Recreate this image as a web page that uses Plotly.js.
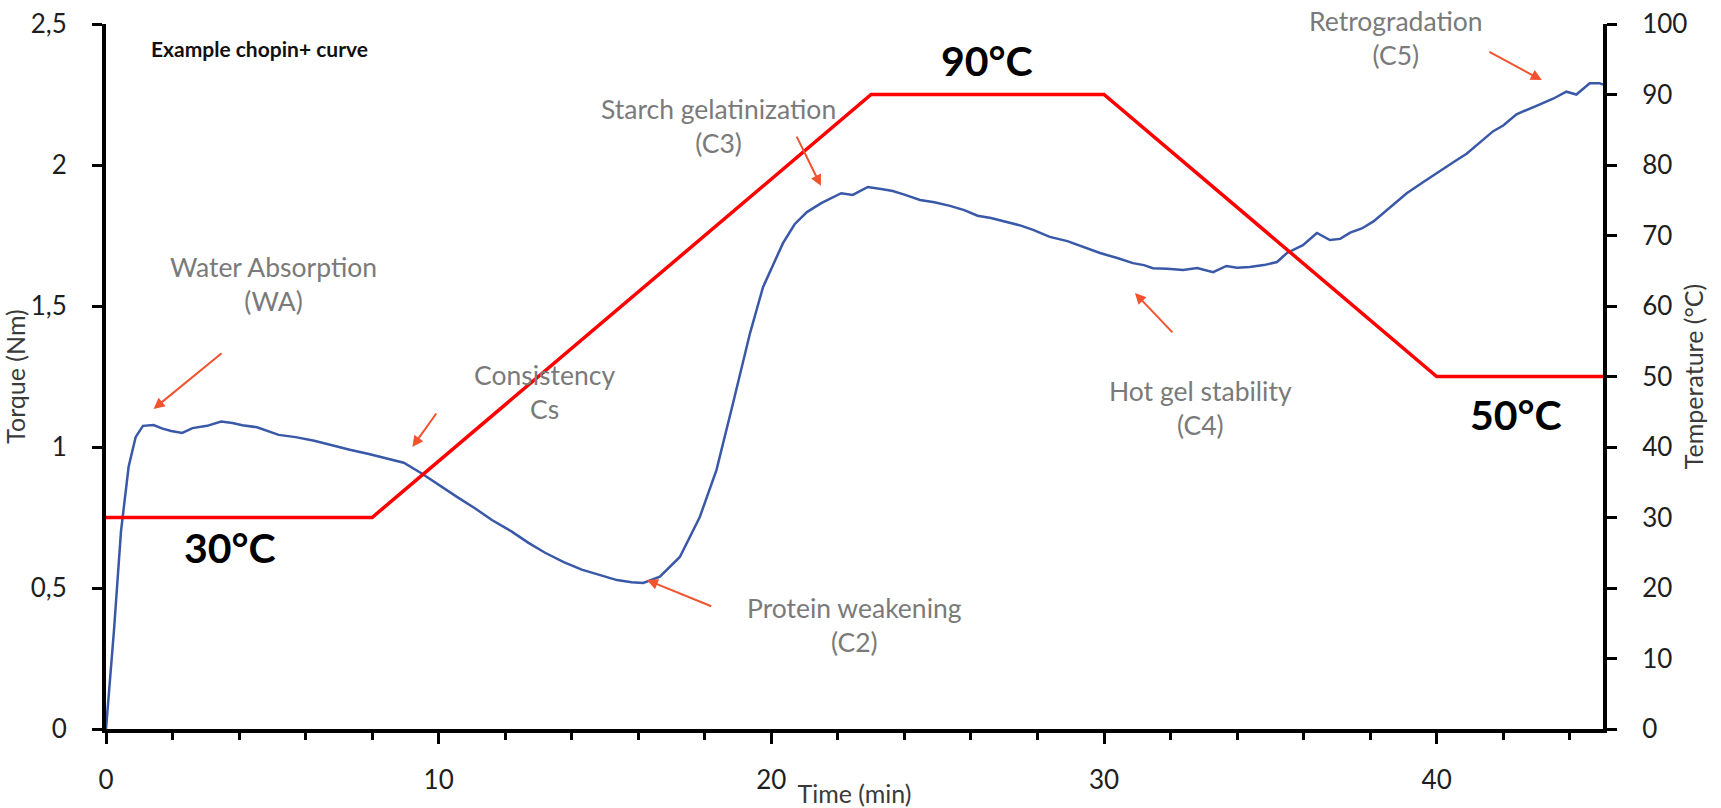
<!DOCTYPE html>
<html>
<head>
<meta charset="utf-8">
<script src="https://cdn.plot.ly/plotly-3.0.1.min.js"></script>
<style>
  html, body { margin: 0; padding: 0; background: #ffffff; }
  #chart { width: 1721px; height: 808px; }
</style>
</head>
<body>
<div id="chart"></div>
<script>
// ---- Data ----
const time = [0, 0.24, 0.45, 0.68, 0.89, 1.11, 1.43, 1.7, 1.96, 2.29, 2.6, 3.04, 3.46, 3.8, 4.1, 4.54, 5.19, 5.7, 6.26, 6.8, 7.33, 7.9, 8.4, 8.95, 9.48, 10.0, 10.55, 11.1, 11.6, 12.2, 12.7, 13.2, 13.76, 14.3, 14.85, 15.36, 15.8, 16.15, 16.65, 17.25, 17.85, 18.35, 18.85, 19.36, 19.75, 20.35, 20.7, 21.07, 21.5, 21.85, 22.1, 22.45, 22.9, 23.3, 23.65, 24.0, 24.47, 24.9, 25.37, 25.8, 26.2, 26.6, 27.07, 27.5, 27.87, 28.37, 28.9, 29.37, 29.88, 30.4, 30.87, 31.2, 31.47, 31.9, 32.38, 32.8, 33.28, 33.68, 34.0, 34.38, 34.8, 35.2, 35.5, 35.98, 36.4, 36.79, 37.1, 37.4, 37.75, 38.1, 38.6, 39.1, 39.6, 40.1, 40.5, 40.9, 41.3, 41.7, 42.0, 42.4, 43.0, 43.5, 43.9, 44.2, 44.6, 44.9, 45.0];
const torque = [0, 0.35, 0.70, 0.93, 1.035, 1.075, 1.078, 1.065, 1.057, 1.05, 1.067, 1.075, 1.09, 1.085, 1.077, 1.07, 1.043, 1.035, 1.022, 1.005, 0.99, 0.975, 0.96, 0.944, 0.907, 0.865, 0.823, 0.782, 0.741, 0.70, 0.66, 0.625, 0.592, 0.565, 0.545, 0.528, 0.52, 0.518, 0.54, 0.61, 0.752, 0.918, 1.156, 1.404, 1.567, 1.723, 1.79, 1.833, 1.865, 1.887, 1.90, 1.894, 1.922, 1.915, 1.908, 1.895, 1.876, 1.868, 1.855, 1.84, 1.82, 1.812, 1.798, 1.785, 1.77, 1.745, 1.73, 1.71, 1.688, 1.67, 1.652, 1.645, 1.634, 1.632, 1.628, 1.635, 1.62, 1.642, 1.636, 1.638, 1.645, 1.656, 1.688, 1.716, 1.759, 1.734, 1.738, 1.76, 1.775, 1.80, 1.85, 1.90, 1.94, 1.98, 2.01, 2.04, 2.08, 2.12, 2.14, 2.18, 2.21, 2.235, 2.26, 2.25, 2.29, 2.29, 2.285];

const tempTime = [0, 8, 23, 30, 40, 45];
const temperature = [30, 30, 90, 90, 50, 50];

const torqueTickVals = [0, 0.5, 1, 1.5, 2, 2.5];
const torqueTickText = ['0', '0,5', '1', '1,5', '2', '2,5'];
const timeTickVals = [0, 10, 20, 30, 40];
const timeTickText = ['0', '10', '20', '30', '40'];
const tempTickVals = [0, 10, 20, 30, 40, 50, 60, 70, 80, 90, 100];
const tempTickText = ['0', '10', '20', '30', '40', '50', '60', '70', '80', '90', '100'];

// ---- Styles ----
const FONT = 'Lato, "Open Sans", sans-serif';
const TICKFONT = { family: FONT, size: 26, color: '#1e1e1e' };
const TITLEFONT = { family: FONT, size: 25, color: '#3a3a3a' };
const NOTE = { family: FONT, size: 26.5, color: '#7a7a7a' };
const BIG = { family: FONT, size: 41, color: '#000000' };
const ARROW = '#f2522e';

const traces = [
  {
    x: time, y: torque, type: 'scatter', mode: 'lines', name: 'Torque',
    line: { color: '#3a58a8', width: 2.5 }, yaxis: 'y', cliponaxis: false
  },
  {
    x: tempTime, y: temperature, type: 'scatter', mode: 'lines', name: 'Temperature',
    line: { color: '#ff0000', width: 3.5 }, yaxis: 'y2', cliponaxis: false
  }
];

function note(text, x, y) {
  return { text: text, x: x, y: y, xref: 'x', yref: 'y', showarrow: false,
           font: NOTE, align: 'center', xanchor: 'center', yanchor: 'middle' };
}
function big(text, x, y) {
  return { text: '<b>' + text + '</b>', x: x, y: y, xref: 'x', yref: 'y', showarrow: false,
           font: BIG, xanchor: 'center', yanchor: 'middle' };
}
function arrow(hx, hy, tx, ty) {
  return { x: hx, y: hy, ax: tx, ay: ty, xref: 'x', yref: 'y', axref: 'x', ayref: 'y',
           text: '', showarrow: true, arrowhead: 2, arrowsize: 1.1, arrowwidth: 2,
           arrowcolor: ARROW, standoff: 0, startstandoff: 0 };
}

const annotations = [
  note('Water Absorption<br>(WA)', 5.02, 1.578),
  note('Consistency<br>Cs', 13.17, 1.195),
  note('Starch gelatinization<br>(C3)', 18.4, 2.138),
  note('Protein weakening<br>(C2)', 22.5, 0.369),
  note('Hot gel stability<br>(C4)', 32.91, 1.138),
  note('Retrogradation<br>(C5)', 38.77, 2.450),
  big('30°C', 3.73, 0.642),
  big('90°C', 26.48, 2.369),
  big('50°C', 42.38, 1.117),
  arrow(1.43, 1.135, 3.52, 1.337),
  arrow(9.21, 1.0, 9.96, 1.124),
  arrow(21.49, 1.926, 20.74, 2.106),
  arrow(16.26, 0.528, 18.24, 0.433),
  arrow(30.93, 1.546, 32.1, 1.401),
  arrow(43.16, 2.301, 41.54, 2.404)
];

const layout = {
  width: 1721, height: 808,
  margin: { l: 106, r: 118, t: 24, b: 79 },
  paper_bgcolor: '#ffffff', plot_bgcolor: '#ffffff',
  showlegend: false,
  font: { family: FONT, color: '#1e1e1e' },
  title: {
    text: '<b>Example chopin+ curve</b>',
    font: { family: FONT, size: 21, color: '#111111' },
    xref: 'container', yref: 'container',
    x: 151 / 1721, y: 1 - 50 / 808, xanchor: 'left', yanchor: 'middle'
  },
  xaxis: {
    range: [0, 45], showgrid: false, zeroline: false,
    showline: true, linecolor: '#000000', linewidth: 4,
    tickmode: 'array', tickvals: timeTickVals, ticktext: timeTickText,
    ticks: 'outside', ticklen: 11, tickwidth: 3, tickcolor: '#000000',
    ticklabelstandoff: 14,
    minor: { dtick: 2, tick0: 0, ticks: 'outside', ticklen: 7, tickwidth: 3, tickcolor: '#000000', showgrid: false },
    tickfont: TICKFONT,
    title: { text: 'Time (min)', font: TITLEFONT, standoff: 0 }
  },
  yaxis: {
    range: [0, 2.5], showgrid: false, zeroline: false,
    showline: true, linecolor: '#000000', linewidth: 4,
    tickmode: 'array', tickvals: torqueTickVals, ticktext: torqueTickText,
    ticks: 'outside', ticklen: 10, tickwidth: 3, tickcolor: '#000000',
    ticklabelstandoff: 20,
    tickfont: TICKFONT,
    title: { text: 'Torque (Nm)', font: TITLEFONT, standoff: 0 }
  },
  yaxis2: {
    range: [0, 100], overlaying: 'y', side: 'right', anchor: 'x',
    showgrid: false, zeroline: false,
    showline: true, linecolor: '#000000', linewidth: 4,
    tickmode: 'array', tickvals: tempTickVals, ticktext: tempTickText,
    ticks: 'outside', ticklen: 10, tickwidth: 3, tickcolor: '#000000',
    ticklabelstandoff: 20,
    tickfont: TICKFONT,
    title: { text: 'Temperature (°C)', font: TITLEFONT, standoff: 0 }
  },
  annotations: annotations
};

Plotly.newPlot('chart', traces, layout, { displayModeBar: false, staticPlot: true });
</script>
</body>
</html>
